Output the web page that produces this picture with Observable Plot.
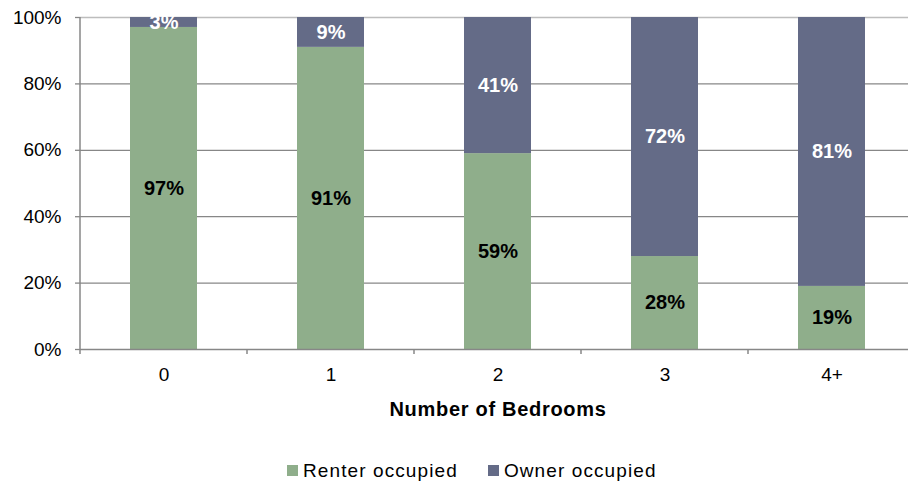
<!DOCTYPE html>
<html>
<head>
<meta charset="utf-8">
<script src="https://cdn.jsdelivr.net/npm/d3@7"></script>
<script src="https://cdn.jsdelivr.net/npm/@observablehq/plot@0.6"></script>
<style>
  body { margin: 0; background: #fff; font-family: "Liberation Sans", Arial, Helvetica, sans-serif; }
  #chart svg { display: block; overflow: visible; }
  .legend { display: flex; align-items: center; margin-left: 287px; margin-top: 8px; height: 45px; font-size: 19px; letter-spacing: 1.1px; color: #000; }
  .legend .item { display: flex; align-items: center; margin-right: 30px; }
  .legend .sw { width: 11px; height: 11px; margin-right: 5px; }
</style>
</head>
<body>
<div id="chart"></div>
<script>
const categories = ["0", "1", "2", "3", "4+"];
const seriesNames = ["Renter occupied", "Owner occupied"];
const renter = [97, 91, 59, 28, 19];
const owner = [3, 9, 41, 72, 81];
const colors = ["#8fae8b", "#646b87"];
const labelColors = ["#000", "#fff"];
const yTicks = [0, 0.2, 0.4, 0.6, 0.8, 1];

const data = [];
categories.forEach((c, i) => data.push({cat: c, series: seriesNames[0], value: renter[i] / 100}));
categories.forEach((c, i) => data.push({cat: c, series: seriesNames[1], value: owner[i] / 100}));

const labelMark = (k) => Plot.text(data, Plot.filter(d => d.series === seriesNames[k],
  Plot.stackY({x: "cat", y: "value", z: "series", order: seriesNames,
    text: d => Math.round(d.value * 100) + "%",
    fill: labelColors[k], fontWeight: "bold", fontSize: 20, letterSpacing: 1})));

const chart = Plot.plot({
  width: 908,
  height: 440,
  marginTop: 17,
  marginBottom: 91,
  marginLeft: 80,
  marginRight: -7,
  style: {fontFamily: '"Liberation Sans", Arial, Helvetica, sans-serif', fontSize: "18px", color: "#000", background: "#fff"},
  x: {domain: categories, paddingInner: 0.6, paddingOuter: 0.3},
  y: {domain: [0, 1]},
  color: {domain: seriesNames, range: colors},
  marks: [
    Plot.gridY(yTicks.filter(t => t > 0 && t < 1), {stroke: "#878787", strokeOpacity: 1, strokeWidth: 1.3}),
    Plot.gridY(yTicks.filter(t => t === 1), {stroke: "#bdbdbd", strokeOpacity: 1, strokeWidth: 1.5}),
    Plot.barY(data, {x: "cat", y: "value", fill: "series", order: seriesNames}),
    Plot.ruleY([0], {stroke: "#878787", strokeWidth: 1.5}),
    Plot.axisY({ticks: yTicks, tickFormat: d => Math.round(d * 100) + "%", tickSize: 5, tickPadding: 14, stroke: "#878787", strokeWidth: 1.3, label: null, fontSize: 19, letterSpacing: 0.6}),
    Plot.axisX({tickSize: 0, tickPadding: 18, label: "Number of Bedrooms", labelAnchor: "center", labelOffset: 66, fontSize: 19, letterSpacing: 0.5}),
    labelMark(0),
    labelMark(1)
  ]
});

// left axis line and category boundary ticks from the library's scales
const xs = chart.scale("x"), ys = chart.scale("y");
const svg = d3.select(chart);
const step = xs.step, bw = xs.bandwidth;
const y0 = ys.apply(0), y1 = ys.apply(1);
const bounds = categories.map(c => xs.apply(c) - (step - bw) / 2);
bounds.push(xs.apply(categories[categories.length - 1]) + bw + (step - bw) / 2);
svg.append("line").attr("x1", bounds[0]).attr("x2", bounds[0]).attr("y1", y1).attr("y2", y0 + 5)
  .attr("stroke", "#878787").attr("stroke-width", 1.5);
svg.selectAll("line.bt").data(bounds.slice(1)).join("line").attr("class", "bt")
  .attr("x1", d => d).attr("x2", d => d).attr("y1", y0).attr("y2", y0 + 5)
  .attr("stroke", "#878787").attr("stroke-width", 1.5);
svg.selectAll('g[aria-label="x-axis label"] text').style("font-weight", "bold").style("font-size", "20px").style("letter-spacing", "0.7px");

document.getElementById("chart").appendChild(chart);

const legend = document.createElement("div");
legend.className = "legend";
seriesNames.forEach((s, i) => {
  const item = document.createElement("div");
  item.className = "item";
  const sw = document.createElement("span");
  sw.className = "sw";
  sw.style.background = colors[i];
  const t = document.createElement("span");
  t.textContent = s;
  item.appendChild(sw); item.appendChild(t);
  legend.appendChild(item);
});
document.body.appendChild(legend);
</script>
</body>
</html>
